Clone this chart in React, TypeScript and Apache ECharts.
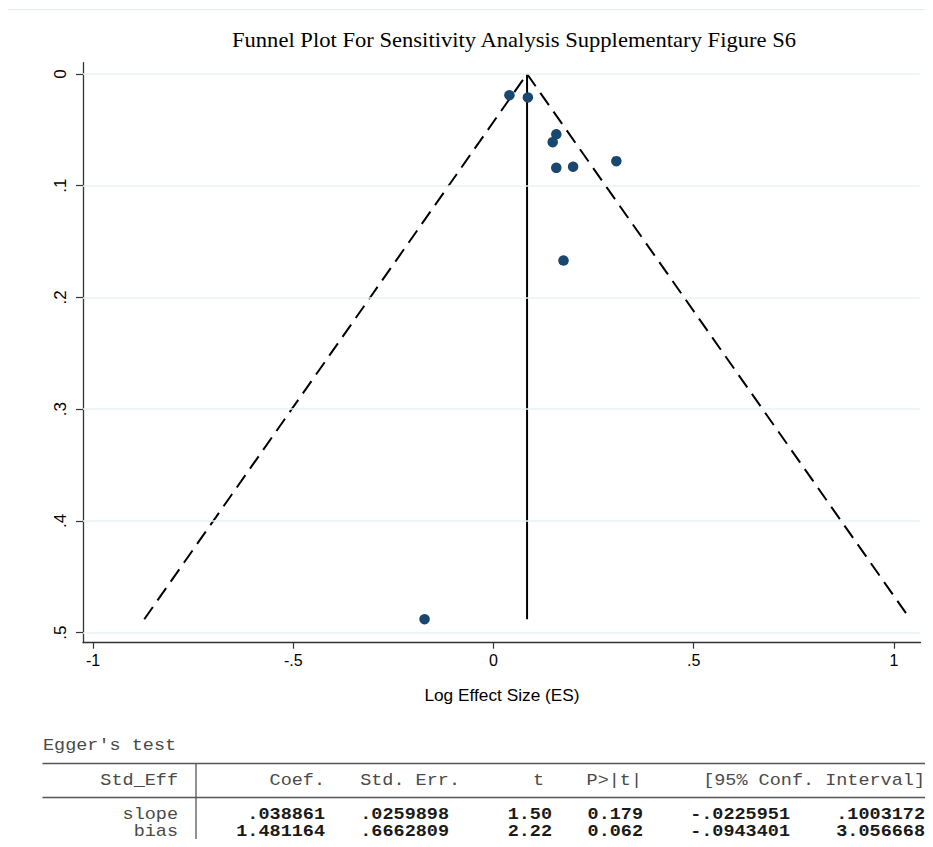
import React, { useEffect, useRef } from "react";
import * as echarts from "echarts";

// Study-level estimates: log effect size and its standard error
const studyES = [0.04, 0.086, 0.157, 0.148, 0.157, 0.199, 0.307, 0.175, -0.172];
const studySE = [0.019, 0.021, 0.054, 0.061, 0.084, 0.083, 0.078, 0.167, 0.488];

// Pooled estimate and pseudo 95% confidence limits at the largest SE
const pooledES = 0.084;
const maxSE = 0.488;
const lowerLimitAtMaxSE = -0.872;
const upperLimitAtMaxSE = 1.041;

// Axis ticks and their labels
const xTicks = [-1, -0.5, 0, 0.5, 1];
const xTickLabels = ["-1", "-.5", "0", ".5", "1"];
const yTicks = [0, 0.1, 0.2, 0.3, 0.4, 0.5];
const yTickLabels = ["0", ".1", ".2", ".3", ".4", ".5"];

// Egger's regression test table
const eggerHeader = ["Std_Eff", "Coef.", "Std. Err.", "t", "P>|t|", "[95% Conf. Interval]"];
const eggerRowLabels = ["slope", "bias"];
const eggerCoef = [".038861", "1.481164"];
const eggerStdErr = [".0259898", ".6662809"];
const eggerT = ["1.50", "2.22"];
const eggerP = ["0.179", "0.062"];
const eggerCILow = ["-.0225951", "-.0943401"];
const eggerCIHigh = [".1003172", "3.056668"];

const NAVY = "#1a476f";
const GRID_COLOR = "#eaf2f3";
const AXIS_COLOR = "#333333";
const SANS = "'Liberation Sans', Arial, sans-serif";
const MONO = "'Liberation Mono', 'DejaVu Sans Mono', monospace";
const MONO_SIZE = 16;
const MONO_SCALE = 1.156;

function monoText(
  text: string,
  x: number,
  y: number,
  align: "left" | "right",
  bold: boolean
) {
  return {
    type: "text",
    x,
    y,
    scaleX: MONO_SCALE,
    silent: true,
    style: {
      text,
      x: 0,
      y: 0,
      fontFamily: MONO,
      fontSize: MONO_SIZE,
      fontWeight: bold ? "bold" : "normal",
      fill: bold ? "#1a1a1a" : "#4a4a4a",
      align,
      textAlign: align,
      verticalAlign: "middle",
      textVerticalAlign: "middle",
    },
  };
}

export default function App() {
  const ref = useRef<HTMLDivElement>(null);

  useEffect(() => {
    if (!ref.current) return;
    const chart = echarts.init(ref.current, undefined, { renderer: "svg" });

    const points = studyES.map((es, i) => [es, studySE[i]]);
    const funnelLeft = [
      [lowerLimitAtMaxSE, maxSE],
      [pooledES, 0],
    ];
    const funnelRight = [
      [pooledES, 0],
      [upperLimitAtMaxSE, maxSE],
    ];
    const pooledLine = [
      [pooledES, 0],
      [pooledES, maxSE],
    ];

    // Table layout
    const headerRight = [178, 325, 460, 544, 642, 925];
    const colRight = [178, 325, 449, 552, 643, 790, 925];
    const rowY = [814.5, 831.5];
    const tableTexts: any[] = [];
    tableTexts.push(monoText("Egger's test", 43, 746, "left", false));
    eggerHeader.forEach((h, i) => tableTexts.push(monoText(h, headerRight[i], 780.5, "right", false)));
    eggerRowLabels.forEach((lab, r) => {
      const cells = [
        lab,
        eggerCoef[r],
        eggerStdErr[r],
        eggerT[r],
        eggerP[r],
        eggerCILow[r],
        eggerCIHigh[r],
      ];
      cells.forEach((c, i) => tableTexts.push(monoText(c, colRight[i], rowY[r], "right", i > 0)));
    });

    const option: any = {
      animation: false,
      backgroundColor: "#ffffff",
      grid: { left: 83, right: 12.5, top: 62.7, bottom: 204.3, containLabel: false },
      xAxis: {
        type: "value",
        min: -1.025,
        max: 1.0666,
        axisLine: { show: true, onZero: false, lineStyle: { color: AXIS_COLOR, width: 1.3 } },
        axisTick: {
          show: true,
          length: 6,
          customValues: xTicks,
          lineStyle: { color: AXIS_COLOR, width: 1.2 },
        },
        axisLabel: {
          customValues: xTicks,
          formatter: (v: number) => xTickLabels[xTicks.findIndex((t) => Math.abs(t - v) < 1e-9)] ?? "",
          fontFamily: SANS,
          fontSize: 16,
          color: "#000000",
          margin: 10,
        },
        splitLine: { show: false },
      },
      yAxis: {
        type: "value",
        inverse: true,
        min: -0.0101,
        max: 0.509,
        axisLine: { show: true, onZero: false, lineStyle: { color: AXIS_COLOR, width: 1.3 } },
        axisTick: {
          show: true,
          length: 7,
          customValues: yTicks,
          lineStyle: { color: AXIS_COLOR, width: 1.2 },
        },
        axisLabel: {
          customValues: yTicks,
          rotate: 90,
          formatter: (v: number) => yTickLabels[yTicks.findIndex((t) => Math.abs(t - v) < 1e-9)] ?? "",
          fontFamily: SANS,
          fontSize: 17,
          color: "#000000",
          margin: 14,
        },
        splitLine: { show: false },
      },
      series: [
        {
          name: "grid",
          type: "line",
          data: [],
          silent: true,
          markLine: {
            silent: true,
            symbol: "none",
            label: { show: false },
            lineStyle: { color: GRID_COLOR, width: 1.5, type: "solid" },
            data: yTicks.map((t) => ({ yAxis: t })),
          },
          z: 1,
        },
        {
          name: "lower limit",
          type: "line",
          data: funnelLeft,
          symbol: "none",
          lineStyle: { color: "#000000", width: 2, type: [15, 8] },
          z: 2,
        },
        {
          name: "upper limit",
          type: "line",
          data: funnelRight,
          symbol: "none",
          lineStyle: { color: "#000000", width: 2, type: [15, 8] },
          z: 2,
        },
        {
          name: "pooled",
          type: "line",
          data: pooledLine,
          symbol: "none",
          lineStyle: { color: "#000000", width: 2 },
          z: 2,
        },
        {
          name: "studies",
          type: "scatter",
          data: points,
          symbol: "circle",
          symbolSize: 10.5,
          itemStyle: { color: NAVY, opacity: 1 },
          z: 3,
        },
      ],
      graphic: [
        {
          type: "line",
          silent: true,
          shape: { x1: 4, y1: 9.5, x2: 933, y2: 9.5 },
          style: { stroke: "#e6edef", lineWidth: 1 },
        },
        {
          type: "text",
          x: 514,
          y: 40,
          scaleX: 1.13,
          silent: true,
          style: {
            text: "Funnel Plot For Sensitivity Analysis Supplementary Figure S6",
            x: 0,
            y: 0,
            fontFamily: "'Liberation Serif', 'Times New Roman', serif",
            fontSize: 20,
            fill: "#000000",
            align: "center",
            textAlign: "center",
            verticalAlign: "middle",
            textVerticalAlign: "middle",
          },
        },
        {
          type: "text",
          x: 502,
          y: 696,
          scaleX: 1.08,
          silent: true,
          style: {
            text: "Log Effect Size (ES)",
            x: 0,
            y: 0,
            fontFamily: SANS,
            fontSize: 16,
            fill: "#000000",
            align: "center",
            textAlign: "center",
            verticalAlign: "middle",
            textVerticalAlign: "middle",
          },
        },
        {
          type: "line",
          silent: true,
          shape: { x1: 42.5, y1: 763.5, x2: 930, y2: 763.5 },
          style: { stroke: "#555555", lineWidth: 1.3 },
        },
        {
          type: "line",
          silent: true,
          shape: { x1: 42.5, y1: 797.5, x2: 930, y2: 797.5 },
          style: { stroke: "#555555", lineWidth: 1.3 },
        },
        {
          type: "line",
          silent: true,
          shape: { x1: 196, y1: 763.5, x2: 196, y2: 847 },
          style: { stroke: "#555555", lineWidth: 1.3 },
        },
        ...tableTexts,
      ],
    };

    chart.setOption(option);
    return () => chart.dispose();
  }, []);

  return <div ref={ref} style={{ width: 933, height: 847, margin: -8 }} />;
}
